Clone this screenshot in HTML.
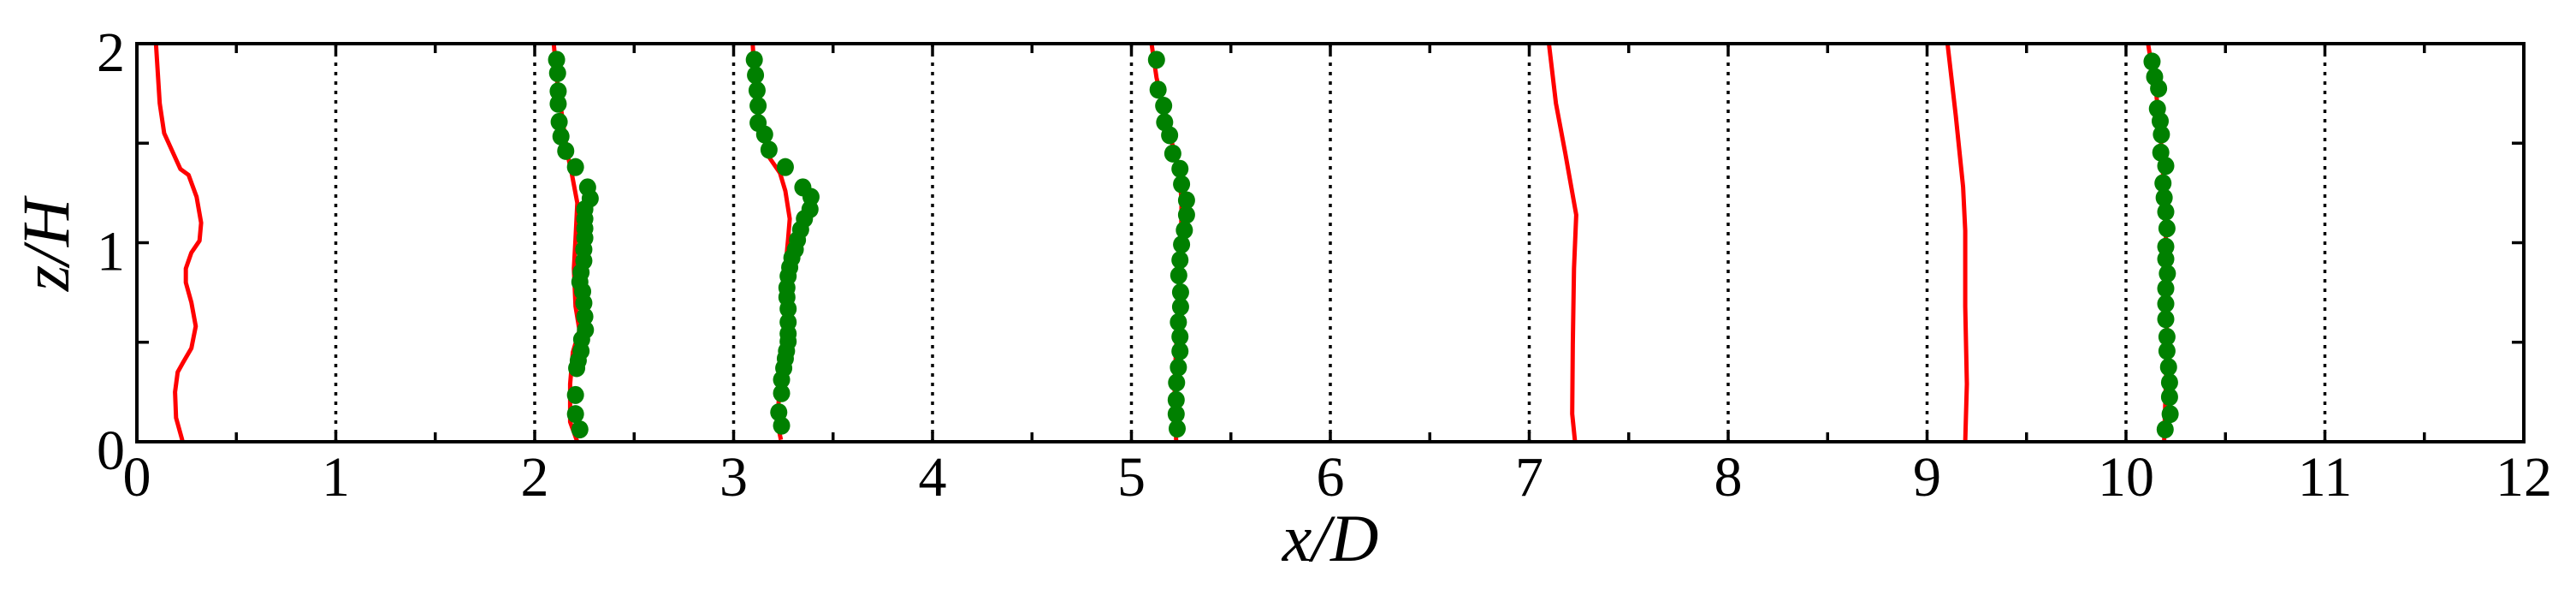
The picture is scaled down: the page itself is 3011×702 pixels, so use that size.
<!DOCTYPE html>
<html><head><meta charset="utf-8"><style>
html,body{margin:0;padding:0;background:#fff;}
svg{display:block;}
text{font-family:"Liberation Serif",serif;fill:#000;}
</style></head><body>
<svg id="chart" width="3011" height="702" viewBox="0 0 3011 702" xmlns="http://www.w3.org/2000/svg">
<g id="grid"></g>
<g id="series"></g>
<g id="axes"></g>
<text x="1555" y="655" font-size="78" font-style="italic" text-anchor="middle">x/D</text>
<text x="0" y="0" font-size="78" font-style="italic" text-anchor="middle" transform="translate(80,286) rotate(-90)">z/H</text>
</svg>
<script>
const xTicks=[0,1,2,3,4,5,6,7,8,9,10,11,12];
const yTicks=[0,1,2];
const redStations=[0,2,3,5,7,9,10];
const red0z=[2,1.70,1.55,1.46,1.37,1.34,1.23,1.10,1.01,0.95,0.87,0.80,0.70,0.58,0.47,0.40,0.35,0.25,0.12,0.02,0];
const red0u=[0.096,0.115,0.137,0.178,0.219,0.26,0.30,0.323,0.315,0.274,0.246,0.246,0.274,0.296,0.274,0.233,0.205,0.192,0.197,0.225,0.23];
const red2z=[2,1.83,1.45,1.35,1.20,1.02,0.87,0.68,0.56,0.45,0.29,0.10,0];
const red2u=[0.096,0.11,0.164,0.186,0.214,0.205,0.197,0.205,0.225,0.192,0.178,0.178,0.214];
const red3z=[2,1.74,1.58,1.43,1.35,1.26,1.12,1.02,0.87,0.68,0.49,0.29,0.10,0.01];
const red3u=[0.096,0.11,0.137,0.178,0.233,0.26,0.282,0.274,0.26,0.26,0.26,0.233,0.219,0.238];
const red5z=[2,1.83,1.60,1.41,1.22,0.97,0.58,0.29,0];
const red5u=[0.101,0.126,0.175,0.230,0.252,0.249,0.230,0.216,0.225];
const red7z=[2,1.70,1.45,1.14,0.87,0.49,0.14,0];
const red7u=[0.099,0.134,0.181,0.236,0.225,0.219,0.216,0.230];
const red9z=[2,1.64,1.28,1.06,0.68,0.29,0];
const red9u=[0.103,0.144,0.181,0.192,0.192,0.2,0.192];
const red10z=[2,1.74,1.45,1.06,0.49,0];
const red10u=[0.111,0.153,0.181,0.2,0.206,0.192];
const green2z=[1.919,1.852,1.761,1.698,1.607,1.534,1.461,1.380,1.278,1.222,1.168,1.120,1.072,1.024,0.966,0.909,0.851,0.803,0.755,0.697,0.629,0.562,0.514,0.456,0.408,0.370,0.235,0.139,0.062];
const green2u=[0.110,0.115,0.118,0.118,0.123,0.132,0.156,0.205,0.266,0.279,0.252,0.252,0.252,0.252,0.247,0.247,0.233,0.227,0.241,0.247,0.252,0.255,0.236,0.233,0.219,0.211,0.205,0.205,0.227];
const green3z=[1.919,1.842,1.765,1.688,1.602,1.544,1.467,1.380,1.278,1.230,1.168,1.120,1.066,1.014,0.966,0.924,0.876,0.832,0.774,0.726,0.668,0.601,0.543,0.504,0.456,0.418,0.370,0.312,0.244,0.148,0.081];
const green3u=[0.104,0.110,0.118,0.123,0.123,0.156,0.178,0.260,0.348,0.389,0.384,0.356,0.337,0.321,0.310,0.293,0.282,0.274,0.268,0.268,0.274,0.274,0.274,0.274,0.266,0.260,0.252,0.241,0.241,0.227,0.241];
const green5z=[1.919,1.769,1.688,1.605,1.540,1.448,1.371,1.294,1.213,1.140,1.063,0.991,0.913,0.836,0.751,0.678,0.601,0.528,0.455,0.374,0.297,0.210,0.139,0.066];
const green5u=[0.126,0.134,0.162,0.167,0.192,0.208,0.244,0.252,0.277,0.277,0.266,0.252,0.244,0.238,0.247,0.247,0.236,0.244,0.244,0.236,0.227,0.225,0.225,0.230];
const green10z=[1.910,1.833,1.775,1.673,1.611,1.544,1.453,1.386,1.299,1.226,1.155,1.072,0.980,0.918,0.845,0.770,0.693,0.616,0.527,0.456,0.375,0.298,0.225,0.139,0.062];
const green10u=[0.131,0.144,0.164,0.158,0.172,0.178,0.175,0.2,0.186,0.192,0.2,0.206,0.2,0.2,0.208,0.2,0.2,0.2,0.206,0.206,0.214,0.219,0.219,0.222,0.197];

const L=160,R=2950,T=51,B=516;
const sx=v=>L+(v-0)/(12-0)*(R-L);
const sy=v=>B-(v-0)/(2-0)*(B-T);
const NS='http://www.w3.org/2000/svg';
function mk(tag,parent,attrs){const e=document.createElementNS(NS,tag);for(const k in attrs)e.setAttribute(k,attrs[k]);parent.appendChild(e);return e;}
const grid=document.getElementById('grid'),ser=document.getElementById('series'),ax=document.getElementById('axes');

xTicks.forEach(t=>{if(t>0&&t<12){const l=mk('line',grid,{x1:sx(t),x2:sx(t),y1:T,y2:B,stroke:'#000','stroke-width':3.5,'stroke-dasharray':'4 7'});

}});

const redZ=[red0z,red2z,red3z,red5z,red7z,red9z,red10z];
const redU=[red0u,red2u,red3u,red5u,red7u,red9u,red10u];
redStations.forEach((s,i)=>{
  const pts=redZ[i].map((z,j)=>sx(s+redU[i][j]).toFixed(1)+','+sy(z).toFixed(1)).join(' ');
  const p=mk('polyline',ser,{points:pts,fill:'none',stroke:'#ff0000','stroke-width':5,'stroke-linejoin':'round'});
  
  
});
const greenStations=[2,3,5,10];
const greenZ=[green2z,green3z,green5z,green10z];
const greenU=[green2u,green3u,green5u,green10u];
greenStations.forEach((s,i)=>{
  const g=mk('g',ser,{});
  
  
  greenZ[i].forEach((z,j)=>{
    const c=mk('ellipse',g,{cx:sx(s+greenU[i][j]),cy:sy(z),rx:10,ry:10.5,fill:'#008000'});
    
    
  });
});

const frame=mk('rect',ax,{x:L,y:T,width:R-L,height:B-T,fill:'none',stroke:'#000','stroke-width':4});


for(let v=0.5;v<12;v+=0.5){
  mk('line',ax,{x1:sx(v),x2:sx(v),y1:B,y2:B-11,stroke:'#000','stroke-width':3.5});
  mk('line',ax,{x1:sx(v),x2:sx(v),y1:T,y2:T+11,stroke:'#000','stroke-width':3.5});
}
for(let v=0.5;v<2;v+=0.5){
  mk('line',ax,{x1:L,x2:L+14,y1:sy(v),y2:sy(v),stroke:'#000','stroke-width':3.5});
  mk('line',ax,{x1:R,x2:R-14,y1:sy(v),y2:sy(v),stroke:'#000','stroke-width':3.5});
}
xTicks.forEach(t=>{
  const tx=mk('text',ax,{x:sx(t),y:579,'font-size':66,'text-anchor':'middle'});
  tx.textContent=String(t);
  
  
});
yTicks.forEach(t=>{
  const tx=mk('text',ax,{x:146,y:sy(t)+32,'font-size':66,'text-anchor':'end'});
  tx.textContent=String(t);
  
  
});
</script>
</body></html>
